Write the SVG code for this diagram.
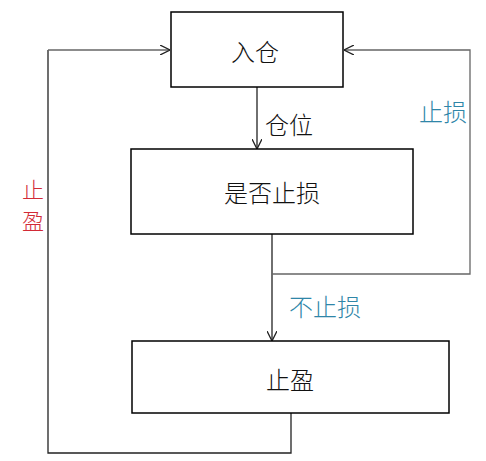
<svg xmlns="http://www.w3.org/2000/svg" width="486" height="461" viewBox="0 0 486 461">
<style>
.box{fill:#fff;stroke:#000;stroke-width:1.5}
.t{font-family:"Noto Sans CJK SC","Noto Sans CJK JP",sans-serif;font-size:24px;font-weight:300;fill:#111;text-anchor:middle;dominant-baseline:central}
.blue{fill:#2f86a8}
.red{fill:#d22a36;font-size:22px}
.c{fill:none;stroke:#222;stroke-width:1.3}
.g{stroke:#666}
</style>
<defs>
<marker id="a" viewBox="0 0 10 10" refX="10" refY="5" markerWidth="10" markerHeight="10" markerUnits="userSpaceOnUse" orient="auto">
<path d="M0,0 L10,5 L0,10" fill="none" stroke="#222" stroke-width="1.3"/>
</marker>
</defs>
<rect width="486" height="461" fill="#fff"/>
<g id="connectors">
<path class="c" d="M257,87 V149" marker-end="url(#a)"/>
<path class="c" d="M272,234 V341" marker-end="url(#a)"/>
<path class="c g" d="M272,274 H470 V50 H344" marker-end="url(#a)"/>
<path class="c" d="M291,413 V453 H48 V50"/>
<path class="c g" d="M48,50 H170" marker-end="url(#a)"/>
<text class="t" x="289" y="123">仓位</text>
<text class="t blue" x="443" y="110">止损</text>
<text class="t blue" x="325" y="305">不止损</text>
<text class="t red" x="33" y="188">止</text>
<text class="t red" x="33" y="219">盈</text>
</g>
<g id="n1">
<rect class="box" x="171" y="12" width="172" height="75"/>
<text class="t" x="255" y="50">入仓</text>
</g>
<g id="n2">
<rect class="box" x="131" y="149" width="282" height="85"/>
<text class="t" x="272" y="191">是否止损</text>
</g>
<g id="n3">
<rect class="box" x="132" y="341" width="317" height="72"/>
<text class="t" x="290" y="378">止盈</text>
</g>
</svg>
